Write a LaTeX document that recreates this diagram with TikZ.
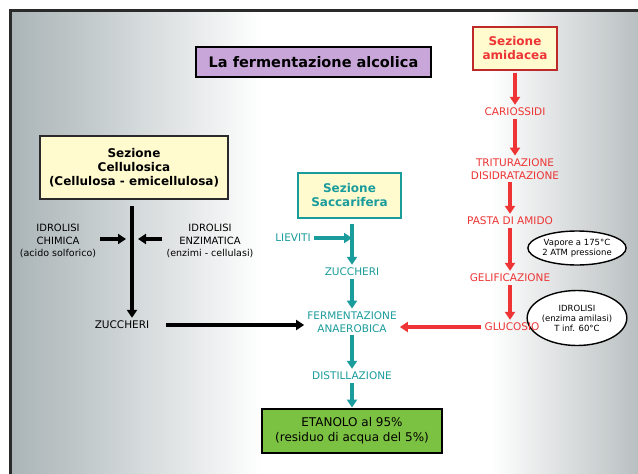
\documentclass[tikz,border=0pt]{standalone}
\usepackage{fontspec}
\setmainfont{DejaVu Sans}
\usetikzlibrary{arrows.meta,shapes.geometric}
\definecolor{bgdark}{HTML}{6E7F83}
\definecolor{bgright}{HTML}{6F7C7F}
\definecolor{myred}{HTML}{EE3434}
\definecolor{myteal}{HTML}{1B9C9C}
\definecolor{boxyel}{HTML}{FFFBCF}
\definecolor{titlepurple}{HTML}{C9A6DA}
\definecolor{etagreen}{HTML}{7CC242}
\definecolor{framegray}{HTML}{2A2A2A}
\pgfdeclarehorizontalshading{bgshade}{100bp}{color(0bp)=(bgdark); color(15bp)=(bgdark!85!white); color(30bp)=(bgdark!45!white); color(45bp)=(white); color(63bp)=(white); color(80bp)=(bgright!70!white); color(90bp)=(bgright); color(100bp)=(bgright)}
\tikzset{
  ybox/.style={draw, line width=1.2pt, fill=boxyel, align=center, font=\bfseries\fontsize{12}{14}\selectfont, inner sep=2pt},
  lbl/.style={align=center, font=\fontsize{10.5}{12.5}\selectfont, inner sep=3pt},
  small/.style={align=center, font=\fontsize{9.5}{12.5}\selectfont, inner sep=2pt},
  redlbl/.style={lbl, text=myred},
  teallbl/.style={lbl, text=myteal},
  redarrow/.style={draw=myred, line width=3.2pt, -{Triangle[length=8pt,width=10pt]}},
  tealarrow/.style={draw=myteal, line width=3.2pt, -{Triangle[length=8pt,width=10pt]}},
  blkarrow/.style={draw=black, line width=3.2pt, -{Triangle[length=8pt,width=10pt]}},
  note/.style={ellipse, draw, line width=1.4pt, fill=white, align=center, font=\fontsize{8.5}{10}\selectfont, inner sep=0pt},
}
\begin{document}
\begin{tikzpicture}[x=1pt,y=-1pt]
\useasboundingbox (0,0) rectangle (638,474);
% background and frame
\shade[shading=bgshade] (10,10) rectangle (642,478);
\draw[framegray, line width=3pt] (10,10) rectangle (642,478);

% title
\node[draw, line width=1.4pt, fill=titlepurple, minimum width=235pt, minimum height=30pt, font=\bfseries\fontsize{14.5}{17}\selectfont] (title) at (313.5,62) {La fermentazione alcolica};

% notes (drawn first so labels lie over them)
\node[note, minimum width=97pt, minimum height=34pt] (vap) at (577,248) {Vapore a 175°C\\2 ATM pressione};
\node[note, minimum width=99pt, minimum height=55pt] (idr) at (577,318) {IDROLISI\\(enzima amilasi)\\T inf. 60°C};

% Sezione amidacea
\node[ybox, draw=myred!80!black, text=myred, minimum width=84pt, minimum height=43pt] (amid) at (515,48.5) {Sezione\\amidacea};
\node[redlbl] (cari) at (515,112) {CARIOSSIDI};
\node[redlbl] (trit) at (515,169) {TRITURAZIONE\\DISIDRATAZIONE};
\node[redlbl] (pasta) at (510,221) {PASTA DI AMIDO};
\node[redlbl] (geli) at (510,278) {GELIFICAZIONE};
\node[redlbl] (gluc) at (512,327) {GLUCOSIO};
\draw[redarrow] (amid.south) ++(0,2) coordinate (a0) -- (cari.north);
\draw[redarrow] (cari.south) -- (trit.north);
\draw[redarrow] (trit.south -| pasta.north) -- (pasta.north);
\draw[redarrow] (pasta.south) -- (geli.north);
\draw[redarrow] (geli.south) -- (geli.south |- gluc.north);

% Sezione saccarifera
\node[ybox, draw=myteal, text=myteal, minimum width=103pt, minimum height=45pt] (sacc) at (349.5,195.5) {Sezione\\Saccarifera};
\node[teallbl] (liev) at (293,238) {LIEVITI};
\node[teallbl] (zt) at (352,272) {ZUCCHERI};
\node[teallbl] (ferm) at (352,322) {FERMENTAZIONE\\ANAEROBICA};
\node[teallbl] (dist) at (352,376) {DISTILLAZIONE};
\node[draw, line width=2pt, fill=etagreen, minimum width=180pt, minimum height=44pt, align=center, font=\fontsize{12}{15}\selectfont] (eta) at (352,430.5) {ETANOLO al 95\%\\(residuo di acqua del 5\%)};
\coordinate (s0) at (352,224);
\coordinate (sj) at (352,238);
\draw[tealarrow] (s0) -- (zt.north);
\draw[tealarrow] (liev.east) -- (sj);
\draw[tealarrow] (zt.south) -- (ferm.north);
\draw[tealarrow] (ferm.south) -- (dist.north);
\draw[tealarrow] (dist.south) -- (eta.north);

% Sezione cellulosica
\node[ybox, draw=framegray, minimum width=188pt, minimum height=63pt] (cell) at (134,167.5) {Sezione\\Cellulosica\\(Cellulosa - emicellulosa)};
\node[small] (chim) at (58,241) {\fontsize{10}{12.5}\selectfont IDROLISI\\\fontsize{10}{12.5}\selectfont CHIMICA\\(acido solforico)};
\node[small] (enz) at (210,241) {\fontsize{10}{12.5}\selectfont IDROLISI\\\fontsize{10}{12.5}\selectfont ENZIMATICA\\(enzimi - cellulasi)};
\node[lbl] (zb) at (122,325) {ZUCCHERI};
\coordinate (c0) at (132,206);
\coordinate (cL) at (126,239);
\coordinate (cR) at (138,239);
\draw[blkarrow] (c0) -- (c0 |- zb.north);
\draw[blkarrow] (chim.east |- cL) ++(2,0) -- (cL);
\draw[blkarrow] (enz.west |- cR) ++(-2,0) -- (cR);
\draw[blkarrow] (zb.east) ++(14,0) -- (ferm.west |- zb);
\draw[redarrow] (gluc.west) -- (ferm.east |- gluc);
\end{tikzpicture}
\end{document}
